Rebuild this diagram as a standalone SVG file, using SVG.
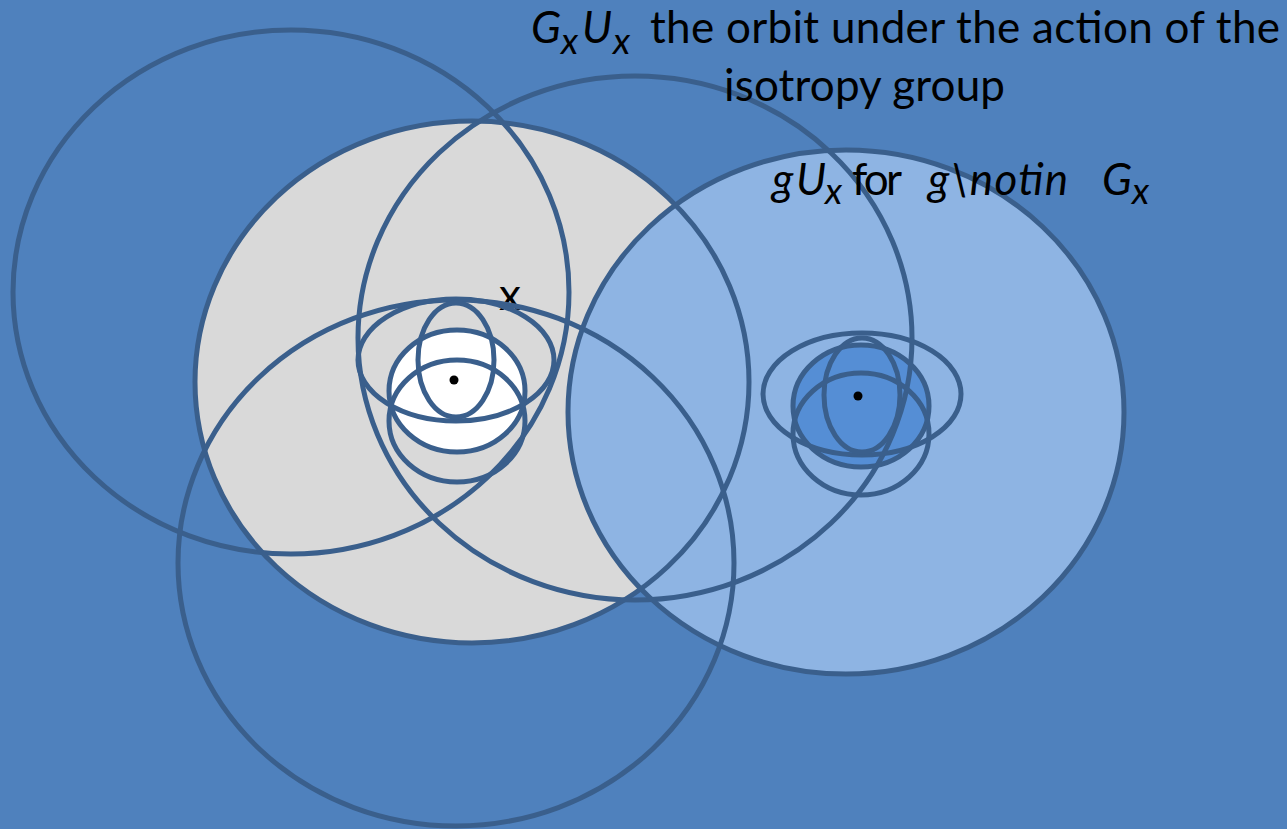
<svg xmlns="http://www.w3.org/2000/svg" width="1287" height="829" viewBox="0 0 1287 829">
<style>
.st{fill:none;stroke:#3A5F8C;stroke-width:5}
.t{font-family:Lato,"Open Sans","Liberation Sans",sans-serif;font-size:44px;fill:#000}
.i{font-style:italic}
.s{font-size:37px;font-style:italic}
</style>
<rect width="1287" height="829" fill="#4F81BD"/>
<g id="fills">
<ellipse cx="472" cy="382" rx="277" ry="261" fill="#D9D9D9"/>
<ellipse cx="846" cy="412" rx="278" ry="262" fill="#8EB4E3"/>
<ellipse cx="457" cy="391" rx="68" ry="61" fill="#FFFFFF"/>
<ellipse cx="861" cy="406" rx="68" ry="61" fill="#558ED5"/>
</g>
<g id="label-x"><text class="t" x="499" y="310">x</text></g>
<g id="connectors">
<ellipse class="st" cx="291" cy="292" rx="278" ry="262"/>
<ellipse class="st" cx="472" cy="382" rx="277" ry="261"/>
<ellipse class="st" cx="635" cy="338" rx="277" ry="262"/>
<ellipse class="st" cx="456" cy="563" rx="278" ry="263"/>
<ellipse class="st" cx="846" cy="412" rx="278" ry="262"/>
<ellipse class="st" cx="456" cy="360" rx="98" ry="61"/>
<ellipse class="st" cx="456" cy="360" rx="38" ry="57"/>
<ellipse class="st" cx="457" cy="391" rx="68" ry="61"/>
<ellipse class="st" cx="457" cy="421" rx="68" ry="61"/>
<ellipse class="st" cx="862" cy="394" rx="99" ry="61"/>
<ellipse class="st" cx="862" cy="395" rx="38" ry="57"/>
<ellipse class="st" cx="861" cy="406" rx="68" ry="61"/>
<ellipse class="st" cx="861" cy="434" rx="68" ry="61"/>
</g>
<g id="dots">
<circle cx="454" cy="380" r="4.5" fill="#000"/>
<circle cx="858" cy="396" r="4.5" fill="#000"/>
</g>
<g id="title">
<text class="t i" x="531" y="43">G</text>
<text class="t s" x="561" y="54">x</text>
<text class="t i" x="582" y="43">U</text>
<text class="t s" x="613" y="54">x</text>
<text class="t" x="650" y="43" textLength="630">the orbit under the action of the</text>
<text class="t" x="724" y="101" textLength="281">isotropy group</text>
</g>
<g id="label-g">
<text class="t i" x="772" y="195">g</text>
<text class="t i" x="796" y="195">U</text>
<text class="t s" x="825" y="204">x</text>
<text class="t" x="852" y="195" textLength="50">for</text>
<text class="t i" x="928" y="195" textLength="140">g\notin</text>
<text class="t i" x="1102" y="195">G</text>
<text class="t s" x="1132" y="204">x</text>
</g>
</svg>
